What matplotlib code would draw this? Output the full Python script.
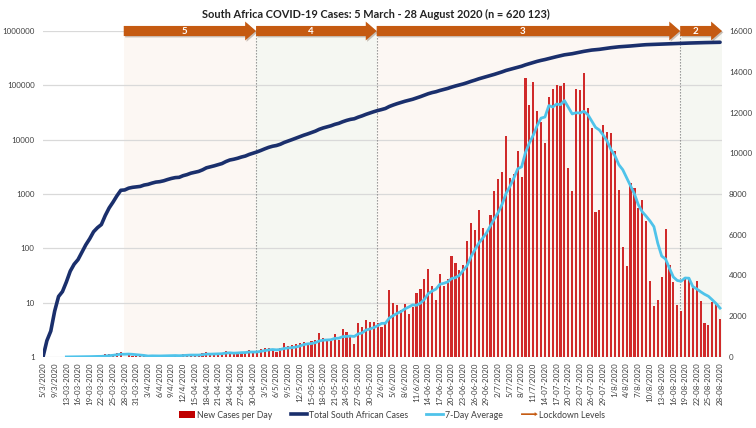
import numpy as np
import pandas as pd
import matplotlib
matplotlib.use("Agg")
import matplotlib.pyplot as plt
import matplotlib.transforms as mtransforms
import matplotlib.patheffects as pe
from matplotlib.patches import Polygon, Patch, FancyArrow
from matplotlib.lines import Line2D
from matplotlib.legend_handler import HandlerPatch
from matplotlib.ticker import FuncFormatter, NullLocator

plt.rcParams["font.family"] = ["Lato", "DejaVu Sans"]

# ── data: one value per reporting day, 5 Mar - 28 Aug 2020 (6 & 10 Mar not reported) ──
new_cases = [
    1, 1, 1, 4, 6, 3, 8, 14, 13, 11, 23, 31, 34, 52, 38, 34, 128, 152, 155, 218,
    243, 17, 93, 46, 27, 27, 82, 43, 80, 70, 31, 63, 96, 89, 69, 25, 145, 99, 143, 91,
    99, 178, 251, 124, 142, 165, 170, 318, 267, 141, 185, 247, 203, 354, 297, 304, 385, 447, 437, 352,
    236, 424, 663, 525, 595, 637, 698, 724, 665, 785, 831, 1160, 918, 767, 803, 1134, 843, 1363, 1240, 1032,
    649, 1673, 1466, 1837, 1727, 1716, 1674, 1455, 1713, 3267, 2642, 2539, 2312, 2594, 2112, 2430, 3147, 3359, 3809, 4302,
    3495, 2801, 4078, 3478, 3825, 4966, 4621, 4288, 4518, 5688, 6579, 6215, 7210, 6334, 6130, 6945, 8124, 8728, 9063, 10853,
    8773, 8971, 10134, 8810, 13674, 12348, 13497, 12058, 11554, 10496, 12757, 13172, 13373, 13285, 13449, 9300, 8170, 13150, 13104, 13944,
    12204, 11233, 7096, 7232, 11362, 11046, 11014, 10107, 8195, 5377, 4456, 8559, 8307, 7292, 7712, 6671, 3739, 2511, 2810, 3946,
    6275, 4513, 3692, 2541, 2258, 3916, 3880, 3398, 3707, 2728, 1677, 1567, 2684, 2585, 1846,
]

total_cases = [
    1, 2, 3, 7, 13, 16, 24, 38, 51, 62, 85, 116, 150, 202, 240, 274, 402, 554, 709, 927,
    1170, 1187, 1280, 1326, 1353, 1380, 1462, 1505, 1585, 1655, 1686, 1749, 1845, 1934, 2003, 2028, 2173, 2272, 2415, 2506,
    2605, 2783, 3034, 3158, 3300, 3465, 3635, 3953, 4220, 4361, 4546, 4793, 4996, 5350, 5647, 5951, 6336, 6783, 7220, 7572,
    7808, 8232, 8895, 9420, 10015, 10652, 11350, 12074, 12739, 13524, 14355, 15515, 16433, 17200, 18003, 19137, 19980, 21343, 22583, 23615,
    24264, 25937, 27403, 29240, 30967, 32683, 34357, 35812, 37525, 40792, 43434, 45973, 48285, 50879, 52991, 55421, 58568, 61927, 65736, 70038,
    73533, 76334, 80412, 83890, 87715, 92681, 97302, 101590, 106108, 111796, 118375, 124590, 131800, 138134, 144264, 151209, 159333, 168061, 177124, 187977,
    196750, 205721, 215855, 224665, 238339, 250687, 264184, 276242, 287796, 298292, 311049, 324221, 337594, 350879, 364328, 373628, 381798, 394948, 408052, 421996,
    434200, 445433, 452529, 459761, 471123, 482169, 493183, 503290, 511485, 516862, 521318, 529877, 538184, 545476, 553188, 559859, 563598, 566109, 568919, 572865,
    579140, 583653, 587345, 589886, 592144, 596060, 599940, 603338, 607045, 609773, 611450, 613017, 615701, 618286, 620132,
]

# every third reporting day gets a label (mixed formats as exported)
tick_labels = [
    "5/3/2020", "9/3/2020", "13-03-2020", "16-03-2020", "19-03-2020", "22-03-2020", "25-03-2020", "28-03-2020",
    "31-03-2020", "3/4/2020", "6/4/2020", "9/4/2020", "12/4/2020", "15-04-2020", "18-04-2020", "21-04-2020",
    "24-04-2020", "27-04-2020", "30-04-2020", "3/5/2020", "6/5/2020", "9/5/2020", "12/5/2020", "15-05-2020",
    "18-05-2020", "21-05-2020", "24-05-2020", "27-05-2020", "30-05-2020", "2/6/2020", "5/6/2020", "8/6/2020",
    "11/6/2020", "14-06-2020", "17-06-2020", "20-06-2020", "23-06-2020", "26-06-2020", "29-06-2020", "2/7/2020",
    "5/7/2020", "8/7/2020", "11/7/2020", "14-07-2020", "17-07-2020", "20-07-2020", "23-07-2020", "26-07-2020",
    "29-07-2020", "1/8/2020", "4/8/2020", "7/8/2020", "10/8/2020", "13-08-2020", "16-08-2020", "19-08-2020",
    "22-08-2020", "25-08-2020", "28-08-2020",
]

levels = ["5", "4", "3", "2"]
level_first_day = [21, 55, 86, 164]   # index of first reporting day at each level

# ── styling ────────────────────────────────────────────────────────────────
BAR_RED = "#d02a2a"
NAVY = "#1a2f6c"
SKY = "#4fc3ea"
ORANGE = "#c55a11"
SHADE = ["#fcf7f3", "#f5f7f2", "#fcf7f3", "#f5f7f2"]
TXT = "#404040"

x = np.arange(len(new_cases))
avg7 = pd.Series(new_cases).rolling(7).mean()
x_right = len(new_cases) - 0.5

fig = plt.figure(figsize=(7.56, 4.28), dpi=100)
ax = fig.add_axes([43 / 756, 1 - 357 / 428, (722 - 43) / 756, 326 / 428])
ax2 = ax.twinx()

bounds = [d - 0.25 for d in level_first_day] + [x_right]

# background shading per lockdown level + dotted dividers
for i in range(len(levels)):
    ax.axvspan(bounds[i], bounds[i + 1], color=SHADE[i], lw=0, zorder=0)
    if i > 0:
        ax.axvline(bounds[i], color="#8a8a8a", ls=(0, (1.2, 1.5)), lw=0.8, zorder=1)

# left: cumulative cases, log scale
ax.plot(x, total_cases, color=NAVY, lw=2.6, solid_capstyle="round", zorder=3)
ax.set_yscale("log")
ax.set_ylim(1, 1e6)
ax.set_yticks([1, 10, 100, 1000, 10000, 100000, 1000000])
ax.yaxis.set_minor_locator(NullLocator())
ax.yaxis.set_major_formatter(FuncFormatter(lambda v, p: f"{int(v)}"))
ax.grid(axis="y", color="#d9d9d9", lw=0.9)
ax.set_axisbelow(True)

# right: daily cases + 7-day average
ax2.bar(x, new_cases, width=0.55, color=BAR_RED, zorder=2)
ax2.plot(x, avg7, color=SKY, lw=2.0, zorder=3)
ax2.set_ylim(0, 16000)
ax2.set_yticks(np.arange(0, 16001, 2000))

ax.set_xlim(0, x_right)
ax.set_xticks(np.arange(0, len(new_cases), 3))
ax.set_xticklabels(tick_labels, rotation=90, fontsize=5.7, color=TXT)

for a in (ax, ax2):
    for s in a.spines.values():
        s.set_visible(False)
ax.tick_params(axis="both", length=0, colors=TXT)
ax.tick_params(axis="y", labelsize=5.8, pad=6)
ax.tick_params(axis="x", pad=4)
ax2.tick_params(axis="y", length=0, labelsize=5.8, colors=TXT, pad=5)

# lockdown level arrows along the top edge
trans = mtransforms.blended_transform_factory(ax2.transData, ax2.transAxes)
body, head, head_len = 0.0155, 0.029, 2.8
for i, lvl in enumerate(levels):
    x0 = bounds[i]
    x1 = bounds[i + 1]
    xh = x1 - head_len
    pts = [(x0, 1 - body), (xh, 1 - body), (xh, 1 - head), (x1, 1),
           (xh, 1 + head), (xh, 1 + body), (x0, 1 + body)]
    arr = Polygon(pts, closed=True, transform=trans, clip_on=False,
                  facecolor=ORANGE, edgecolor="none", zorder=10)
    arr.set_path_effects([pe.SimplePatchShadow(offset=(1, -1), alpha=0.25), pe.Normal()])
    ax2.add_patch(arr)
    ax2.text((x0 + xh) / 2, 1.0, lvl, transform=trans, ha="center", va="center",
             color="white", fontsize=7, fontweight="bold", zorder=11)

fig.text(376 / 756, 1 - 14 / 428,
         "South Africa COVID-19 Cases: 5 March - 28 August 2020 (n = 620 123)",
         ha="center", va="center", fontsize=7.9, fontweight="bold", color="#222222")


def arrow_handle(legend, orig_handle, xdescent, ydescent, width, height, fontsize):
    return FancyArrow(0, height / 2, width, 0, width=height * 0.25, head_width=height * 0.6,
                      head_length=height * 0.45, length_includes_head=True, color=ORANGE)


handles = [
    Patch(facecolor="#c00000"),
    Line2D([], [], color=NAVY, lw=2.6),
    Line2D([], [], color=SKY, lw=2.0),
    Patch(facecolor=ORANGE),
]
labels = ["New Cases per Day", "Total South African Cases", "7-Day Average", "Lockdown Levels"]
leg = fig.legend(handles, labels, loc="center", bbox_to_anchor=(392 / 756, 1 - 415 / 428),
                 ncol=4, frameon=False, fontsize=6.3, handlelength=1.9, handleheight=0.8,
                 columnspacing=2.1, handletextpad=0.2,
                 handler_map={handles[3]: HandlerPatch(patch_func=arrow_handle)})
for t in leg.get_texts():
    t.set_color(TXT)

fig.savefig("out.png", dpi=100)
